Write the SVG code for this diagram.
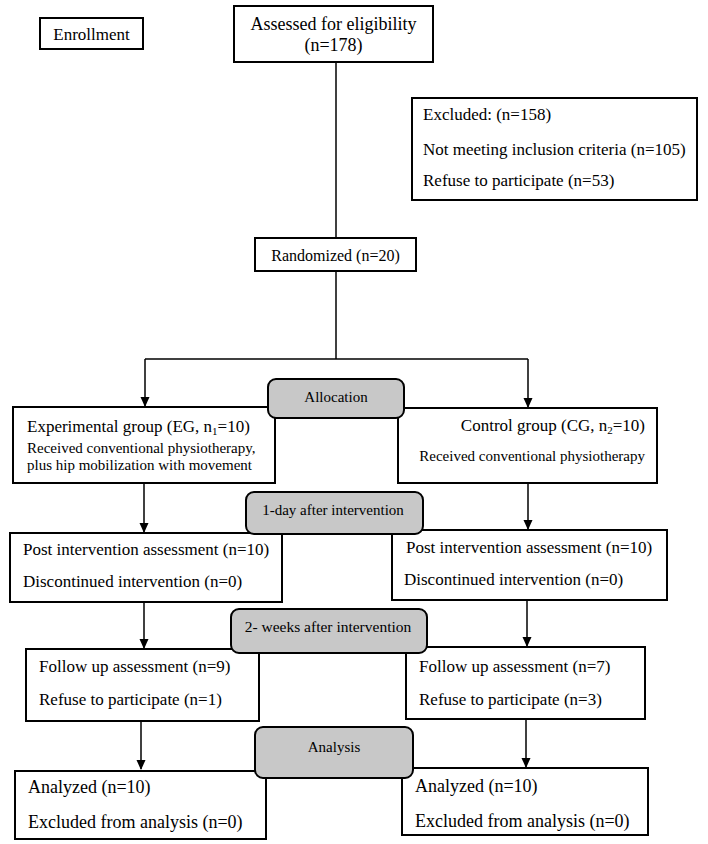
<svg xmlns="http://www.w3.org/2000/svg" width="708" height="844" viewBox="0 0 708 844">
<defs>
<marker id="ah" markerWidth="10" markerHeight="10" refX="9" refY="5" orient="auto" markerUnits="userSpaceOnUse">
<path d="M0,0.5 L10,5 L0,9.5 Z" fill="#000"/>
</marker>
<style>
.box{fill:#fff;stroke:#000;stroke-width:2}
.tag{fill:#c8c8c8;stroke:#000;stroke-width:2}
.ln{fill:none;stroke:#000;stroke-width:1.5}
text{font-family:"Liberation Serif","Times New Roman",serif;fill:#000}
.t17{font-size:17px}
.t18{font-size:18px}
.t15{font-size:15px}
.mid{text-anchor:middle}
.end{text-anchor:end}
</style>
</defs>
<rect width="708" height="844" fill="#fff"/>

<g id="connectors">
<line class="ln" x1="336" y1="62" x2="336" y2="238"/>
<polyline class="ln" points="336,271 336,359"/>
<line class="ln" x1="145" y1="359" x2="528" y2="359"/>
<line class="ln" x1="145" y1="359" x2="145" y2="406" marker-end="url(#ah)"/>
<line class="ln" x1="528" y1="359" x2="528" y2="407" marker-end="url(#ah)"/>
<line class="ln" x1="144" y1="483" x2="144" y2="532" marker-end="url(#ah)"/>
<line class="ln" x1="528" y1="483" x2="528" y2="529" marker-end="url(#ah)"/>
<line class="ln" x1="144" y1="602" x2="144" y2="648" marker-end="url(#ah)"/>
<line class="ln" x1="527" y1="600" x2="527" y2="646" marker-end="url(#ah)"/>
<line class="ln" x1="141" y1="721" x2="141" y2="769" marker-end="url(#ah)"/>
<line class="ln" x1="526" y1="719" x2="526" y2="767" marker-end="url(#ah)"/>
</g>

<g id="enrollment">
<rect class="box" x="40" y="18" width="103" height="31"/>
<text class="t17 mid" x="91.5" y="40">Enrollment</text>
</g>

<g id="assessed">
<rect class="box" x="234" y="6" width="199" height="56"/>
<text class="t18 mid" x="333.5" y="30">Assessed for eligibility</text>
<text class="t18 mid" x="333.5" y="51">(n=178)</text>
</g>

<g id="excluded">
<rect class="box" x="412" y="98" width="285" height="102"/>
<text class="t17" x="423" y="120">Excluded: (n=158)</text>
<text class="t17" x="423" y="155">Not meeting inclusion criteria (n=105)</text>
<text class="t17" x="423" y="186">Refuse to participate (n=53)</text>
</g>

<g id="randomized">
<rect class="box" x="255" y="238" width="161" height="33"/>
<text class="t16 mid" x="335.5" y="261" style="font-size:16px">Randomized (n=20)</text>
</g>

<g id="eg">
<rect class="box" x="13" y="407" width="262" height="76"/>
<text class="t17" x="27" y="432">Experimental group (EG, n<tspan font-size="11" dy="3">1</tspan><tspan dy="-3">=10)</tspan></text>
<text class="t15" x="27" y="453">Received conventional physiotherapy,</text>
<text class="t15" x="27" y="470">plus hip mobilization with movement</text>
</g>

<g id="cg">
<rect class="box" x="398" y="408" width="259" height="75"/>
<text class="t17 end" x="645" y="431">Control group (CG, n<tspan font-size="11" dy="3">2</tspan><tspan dy="-3">=10)</tspan></text>
<text class="t15 end" x="645" y="461">Received conventional physiotherapy</text>
</g>

<g id="allocation">
<rect class="tag" x="268" y="379" width="136" height="39" rx="8"/>
<text class="t15 mid" x="336" y="402">Allocation</text>
</g>

<g id="post-eg">
<rect class="box" x="10" y="533" width="272" height="69"/>
<text class="t17" x="23" y="555">Post intervention assessment (n=10)</text>
<text class="t17" x="23" y="587">Discontinued intervention (n=0)</text>
</g>

<g id="post-cg">
<rect class="box" x="392" y="530" width="275" height="70"/>
<text class="t17" x="406" y="553">Post intervention assessment (n=10)</text>
<text class="t17" x="404" y="585">Discontinued intervention (n=0)</text>
</g>

<g id="day1">
<rect class="tag" x="246" y="492" width="177" height="42" rx="8"/>
<text class="t15 mid" x="333" y="515">1-day after intervention</text>
</g>

<g id="follow-eg">
<rect class="box" x="26" y="649" width="233" height="72"/>
<text class="t17" x="39" y="672">Follow up assessment (n=9)</text>
<text class="t17" x="39" y="705">Refuse to participate (n=1)</text>
</g>

<g id="follow-cg">
<rect class="box" x="406" y="647" width="239" height="72"/>
<text class="t17" x="419" y="672">Follow up assessment (n=7)</text>
<text class="t17" x="419" y="705">Refuse to participate (n=3)</text>
</g>

<g id="weeks2">
<rect class="tag" x="231" y="609" width="196" height="44" rx="8"/>
<text class="t15 mid" x="328" y="632" style="font-size:15.5px">2- weeks after intervention</text>
</g>

<g id="analyzed-eg">
<rect class="box" x="15" y="771" width="251" height="68"/>
<text class="t18" x="28" y="793">Analyzed (n=10)</text>
<text class="t18" x="28" y="828">Excluded from analysis (n=0)</text>
</g>

<g id="analyzed-cg">
<rect class="box" x="402" y="768" width="246" height="67"/>
<text class="t18" x="415" y="792">Analyzed (n=10)</text>
<text class="t18" x="415" y="827">Excluded from analysis (n=0)</text>
</g>

<g id="analysis">
<rect class="tag" x="255" y="727" width="158" height="51" rx="8"/>
<text class="t15 mid" x="334" y="752">Analysis</text>
</g>
</svg>
